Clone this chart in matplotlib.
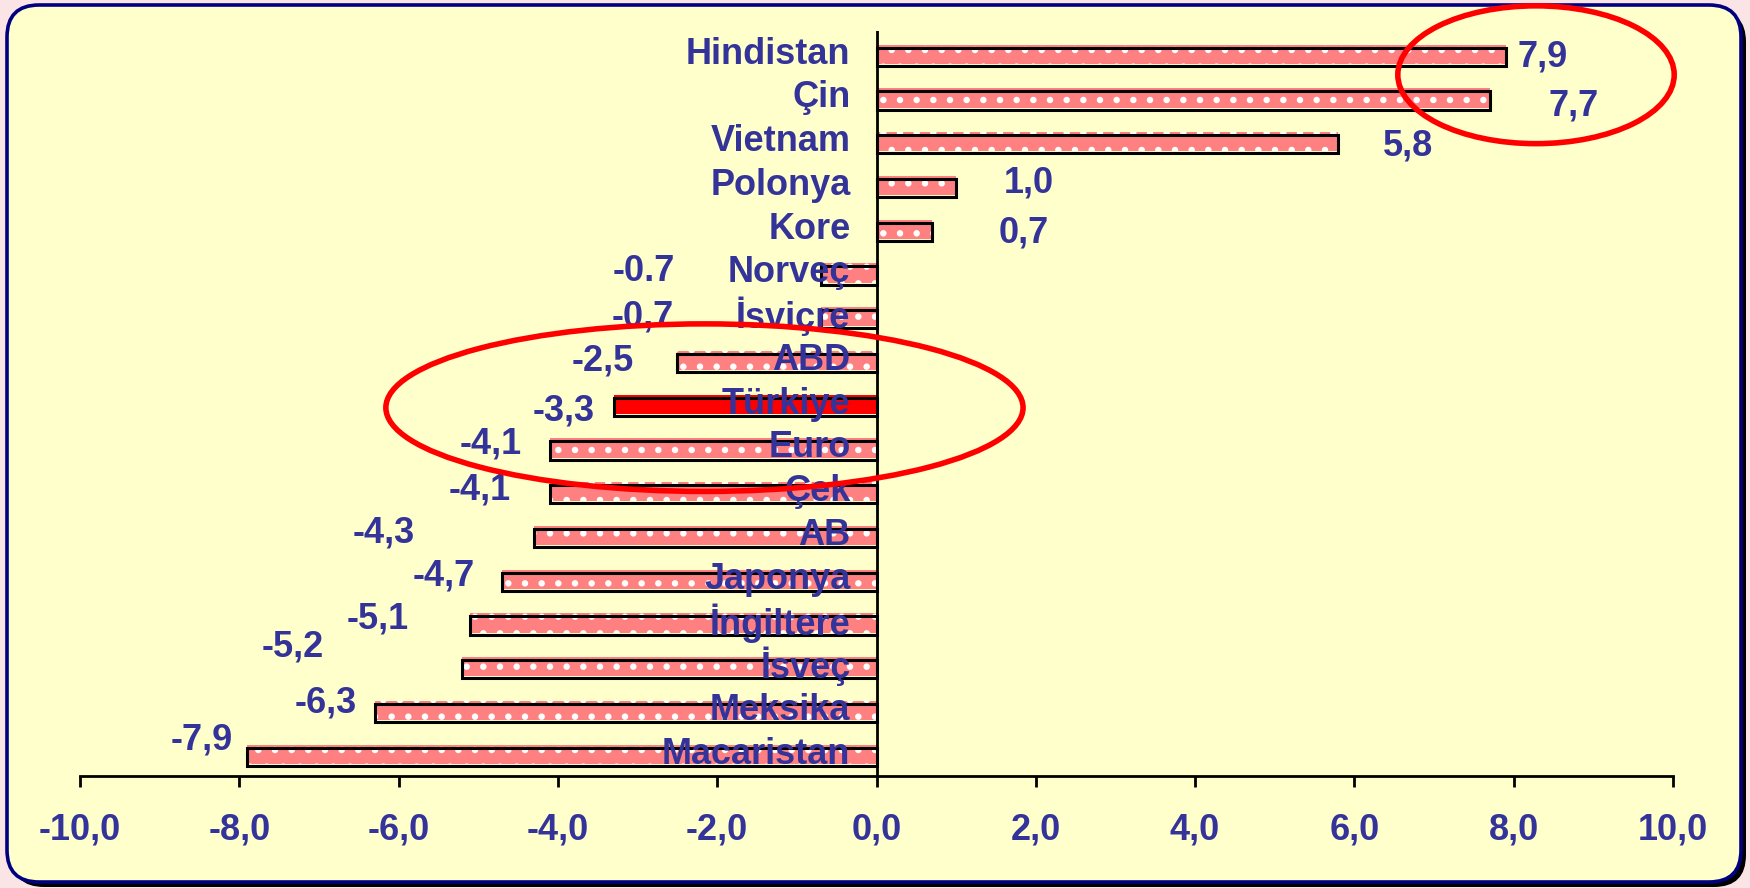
import matplotlib
matplotlib.use('Agg')
import matplotlib.pyplot as plt
from matplotlib.patches import FancyBboxPatch, Ellipse
import numpy as np

# Data
countries = ['Hindistan', 'Çin', 'Vietnam', 'Polonya', 'Kore', 'Norveç', 'İsviçre',
             'ABD', 'Türkiye', 'Euro', 'Çek', 'AB', 'Japonya', 'İngiltere',
             'İsveç', 'Meksika', 'Macaristan']
values = [7.9, 7.7, 5.8, 1.0, 0.7, -0.7, -0.7, -2.5, -3.3, -4.1, -4.1, -4.3,
          -4.7, -5.1, -5.2, -6.3, -7.9]
value_texts = ['7,9', '7,7', '5,8', '1,0', '0,7', '-0.7', '-0,7', '-2,5', '-3,3',
               '-4,1', '-4,1', '-4,3', '-4,7', '-5,1', '-5,2', '-6,3', '-7,9']
xticks = [-10, -8, -6, -4, -2, 0, 2, 4, 6, 8, 10]

# label offsets from bar end (pixels, x right / y up) - layout only
label_dx = [37, 84, 70, 73, 91, -177, -178, -75, -50, -59, -70, -150, -58, -93, -170, -49, -46]
label_dy = [-3, -8, -4, 2, -4, 1, 0, -1, -7, 4, 2, 2, 3, 4, 20, 7, 14]

TXT = '#333399'
FONT = 'Liberation Sans'
FS = 26
plt.rcParams['hatch.linewidth'] = 2.2

W, H = 1750, 888
fig = plt.figure(figsize=(W / 100, H / 100), dpi=100)
fig.patch.set_facecolor('#fbe4e6')

# shadow + rounded panel
r = 32 / W
asp = W / H
shadow = FancyBboxPatch((12 / W, (H - 887) / H), (1741 - 7) / W, (882 - 5) / H,
                        boxstyle=f'round,pad=0,rounding_size={r}', mutation_aspect=asp,
                        transform=fig.transFigure, facecolor='black', edgecolor='none', zorder=0)
panel = FancyBboxPatch((7 / W, (H - 882) / H), (1741 - 7) / W, (882 - 5) / H,
                       boxstyle=f'round,pad=0,rounding_size={r}', mutation_aspect=asp,
                       transform=fig.transFigure, facecolor='#ffffcc', edgecolor='#000080',
                       linewidth=2.6, zorder=1)
fig.add_artist(shadow)
fig.add_artist(panel)

ax = fig.add_axes([80 / W, (H - 776) / H, 1593 / W, (776 - 31) / H])
ax.set_facecolor('none')
ax.set_zorder(2)

y = np.arange(len(countries))
colors = ['#ff0000' if c == 'Türkiye' else '#ff8080' for c in countries]
hatches = ['' if c == 'Türkiye' else '.' for c in countries]

bars = ax.barh(y, values, height=0.44, color=colors, edgecolor='white', linewidth=0, zorder=2)
for b, h in zip(bars, hatches):
    b.set_hatch(h)
ax.barh(y + 0.06, values, height=0.42, fill=False, edgecolor='black', linewidth=2.2, zorder=3)

ax.axvline(0, color='black', linewidth=2, zorder=4)

for i, (c, v) in enumerate(zip(countries, values)):
    ax.annotate(c, xy=(0, i), xytext=(-26, 0), textcoords='offset pixels',
                ha='right', va='center', fontsize=FS, fontweight='bold',
                color=TXT, family=FONT, zorder=6)
    ax.annotate(value_texts[i], xy=(v, i), xytext=(label_dx[i], label_dy[i]),
                textcoords='offset pixels', ha='center', va='center', fontsize=FS,
                fontweight='bold', color=TXT, family=FONT, zorder=6, annotation_clip=False)

# red highlight ellipses
ax.add_patch(Ellipse((8.28, 0.47), 3.47, 3.15, fill=False, edgecolor='#ff0000',
                     linewidth=4, clip_on=False, zorder=7))
ax.add_patch(Ellipse((-2.16, 8.08), 8.0, 3.83, fill=False, edgecolor='#ff0000',
                     linewidth=4, clip_on=False, zorder=7))

ax.set_xlim(-10, 10)
ax.set_ylim(16.5, -0.53)
ax.set_xticks(xticks)
ax.set_xticklabels([f'{v:.1f}'.replace('.', ',') for v in xticks],
                   fontsize=FS, fontweight='bold', color=TXT, family=FONT)
ax.set_yticks([])
ax.tick_params(axis='x', direction='out', length=8, width=2, pad=18)
for s in ['top', 'right', 'left']:
    ax.spines[s].set_visible(False)
ax.spines['bottom'].set_linewidth(2)

fig.savefig('out.png', dpi=100, facecolor=fig.get_facecolor())
